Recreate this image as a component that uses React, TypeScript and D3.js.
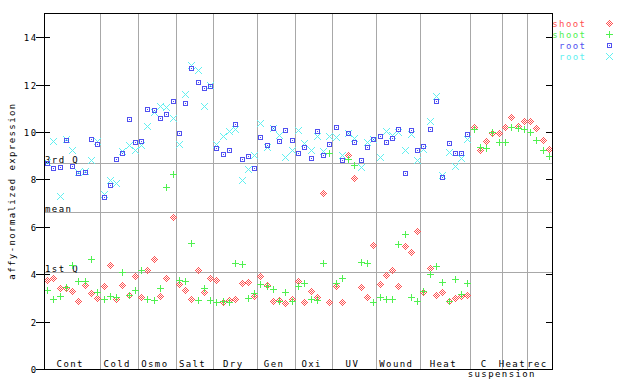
import React from "react";
import * as d3 from "d3";

const groupLabels = ["Cont", "Cold", "Osmo", "Salt", "Dry", "Gen", "Oxi", "UV", "Wound", "Heat", "C", "Heat", "rec"];
const groupStarts = [0, 9, 15, 21, 27, 34, 40, 46, 53, 60, 68, 73, 77];
const sampleCount = 81;
const subLabel = "suspension";

const shootRed = [
  3.74, 3.83, 3.41, 3.41, 3.28, 2.88, 3.53, 3.19, 2.98,
  3.49, 4.38, 2.94, 3.53, 3.11, 3.91,
  3.03, 4.17, 4.63, 3.07, 3.83, 6.40,
  3.58, 3.32, 2.94, 4.17, 3.24, 3.83,
  3.74, 2.81, 2.90, 2.94, 3.62, 3.66, 3.07,
  3.91, 3.53, 2.86, 2.90, 2.77, 2.94,
  3.70, 2.82, 3.28, 3.03, 7.42, 2.82,
  3.49, 2.82, 9.02, 8.05, 3.45, 3.03, 5.22,
  3.58, 3.96, 4.17, 3.49, 5.18, 4.93, 5.81,
  3.24, 4.25, 3.11, 3.24, 2.86, 2.98, 3.07, 3.11,
  10.20, 9.23, 9.61, 9.95, 9.95,
  10.20, 10.62, 10.26, 10.46,
  10.46, 10.17, 9.65, 9.27,
];

const shootGreen = [
  3.32, 2.94, 3.07, 3.45, 4.38, 3.70, 3.70, 4.63, 3.24,
  2.94, 3.07, 3.03, 4.08, 3.11, 3.32,
  4.17, 2.94, 2.90, 3.41, 7.67, 8.22,
  3.74, 3.70, 5.31, 2.90, 3.41, 2.90,
  2.82, 2.86, 2.82, 4.46, 4.42, 2.98, 3.20,
  3.58, 3.49, 3.36, 2.86, 3.24, 2.86,
  3.49, 3.62, 2.94, 2.90, 4.46, 9.10,
  3.62, 3.83, 8.85, 8.60, 4.50, 4.46, 2.82,
  3.03, 2.94, 2.94, 5.26, 5.69, 3.03, 2.86,
  3.28, 4.00, 4.34, 3.66, 2.86, 3.79, 3.15, 3.62,
  10.12, 9.36, 9.32, 9.99, 9.57,
  9.57, 10.20, 10.17, 10.13,
  9.99, 9.65, 9.23, 8.98,
];

const rootBlue = [
  8.68, 8.47, 8.51, 9.68, 8.56, 8.26, 8.30, 9.69, 9.49,
  7.25, 7.78, 8.85, 9.10, 10.54, 9.57,
  9.62, 10.98, 10.92, 10.58, 10.75, 11.30,
  9.95, 11.22, 12.69, 12.10, 11.85, 11.96,
  9.34, 9.06, 9.23, 10.33, 8.85, 8.98, 8.47,
  9.78, 9.44, 10.17, 9.61, 10.08, 9.65,
  9.10, 9.36, 8.89, 10.03, 9.02, 9.49,
  10.20, 8.81, 9.95, 9.57, 8.81, 9.36, 9.72,
  9.82, 9.57, 9.74, 10.12, 8.26, 10.08, 9.23,
  9.40, 10.12, 11.30, 8.09, 9.53, 9.10, 9.10, 9.91,
];

const rootCyan = [
  8.72, 9.61, 7.30, 9.70, 9.23, 8.33, 8.37, 8.81, 9.61,
  7.37, 7.97, 7.85, 9.19, 9.46, 9.23,
  9.44, 10.26, 10.83, 11.09, 11.05, 10.58,
  9.49, 11.60, 12.82, 12.61, 11.09, 11.98,
  9.49, 9.82, 10.03, 10.13, 7.97, 8.43, 9.02,
  10.37, 9.39, 10.17, 9.88, 8.94, 9.23,
  10.08, 9.53, 9.23, 9.82, 9.19, 9.82,
  9.78, 9.02, 9.95, 9.74, 8.51, 9.57, 9.72,
  8.94, 10.03, 9.86, 9.99, 9.23, 9.91, 8.81,
  9.27, 10.46, 11.51, 8.18, 9.15, 8.56, 8.89, 9.70,
];

const yTicks = [0, 2, 4, 6, 8, 10, 12, 14];
const quantileNames = ["3rd Q", "mean", "1st Q"];
const quantileValues = [8.68, 6.61, 4.08];
const legendNames = ["shoot", "shoot", "root", "root"];
const yTitle = "affy-normalized expression";

const COLORS = ["#ff5050", "#50f050", "#5050f0", "#60f0f0"];
const FONT = "'DejaVu Sans Mono', monospace";

type Off = [number, number];
const diamondOffs: Off[] = [];
const plusOffs: Off[] = [];
const squareOffs: Off[] = [];
const crossOffs: Off[] = [];
for (let dx = -3; dx <= 3; dx++) {
  for (let dy = -3; dy <= 3; dy++) {
    const m = Math.abs(dx) + Math.abs(dy);
    if (m <= 3 && Math.abs(dx + dy) % 2 === 1) diamondOffs.push([dx, dy]);
    if ((dx === 0 || dy === 0)) plusOffs.push([dx, dy]);
    if (Math.abs(dx) === Math.abs(dy)) crossOffs.push([dx, dy]);
    if (Math.abs(dx) <= 2 && Math.abs(dy) <= 2 && (Math.max(Math.abs(dx), Math.abs(dy)) === 2 || (dx === 0 && dy === 0)))
      squareOffs.push([dx, dy]);
  }
}
const MARKERS = [diamondOffs, plusOffs, squareOffs, crossOffs];

function pix(X: number, Y: number, offs: Off[]) {
  return offs.map(([dx, dy]) => `M${X + dx},${Y + dy}h1v1h-1z`).join("");
}

export default function App() {
  const L = 44, R = 552, T = 13, B = 369;
  const x = d3.scaleLinear().domain([-0.5, sampleCount - 0.5]).range([L, R]);
  const y = d3.scaleLinear().domain([0, 15]).range([B, 13.6]);

  const series = [shootRed, shootGreen, rootBlue, rootCyan];
  const drawOrder = [0, 1, 3, 2];

  const groupEnds = groupStarts.slice(1).concat([sampleCount]);
  const textStyle = { fontFamily: FONT, fontSize: 9, letterSpacing: 1.4 } as const;

  return (
    <svg width={640} height={384} style={{ position: "fixed", left: 0, top: 0, background: "#fff" }}>
      <rect width={640} height={384} fill="#fff" />
      {/* separators */}
      {groupStarts.slice(1).map((b, k) => {
        const px = Math.round(x(b - 0.5)) + 0.5;
        return <line key={"v" + k} x1={px} x2={px} y1={T} y2={B} stroke="#a8a8a8" shapeRendering="crispEdges" />;
      })}
      {/* quantile lines */}
      {quantileValues.map((q, k) => {
        const py = Math.round(y(q)) + 0.5;
        return (
          <g key={"q" + k}>
            <line x1={L} x2={R} y1={py} y2={py} stroke="#a8a8a8" shapeRendering="crispEdges" />
            <text x={L + 1} y={py - 1} {...textStyle} fill="#000">{quantileNames[k]}</text>
          </g>
        );
      })}
      {/* points */}
      {drawOrder.map((s) => (
        <path
          key={"s" + s}
          fill={COLORS[s]}
          shapeRendering="crispEdges"
          d={series[s].map((v, i) => pix(Math.round(x(i)), Math.round(y(v)), MARKERS[s])).join("")}
        />
      ))}
      {/* frame */}
      <rect x={L + 0.5} y={T + 0.5} width={R - L} height={B - T} fill="none" stroke="#000" shapeRendering="crispEdges" />
      {/* y ticks */}
      {yTicks.map((t) => {
        const py = Math.round(y(t)) + 0.5;
        return (
          <g key={"t" + t}>
            <line x1={36} x2={50} y1={py} y2={py} stroke="#000" shapeRendering="crispEdges" />
            <line x1={546} x2={R} y1={py} y2={py} stroke="#000" shapeRendering="crispEdges" />
            <text x={37.5} y={py + 3} textAnchor="end" {...textStyle} fill="#000">{t}</text>
          </g>
        );
      })}
      {/* group labels */}
      {groupLabels.map((g, k) => {
        const cx = (x(groupStarts[k] - 0.5) + x(groupEnds[k] - 0.5)) / 2 - 2;
        return (
          <text key={"g" + k} x={cx} y={367} textAnchor="middle" {...textStyle} fill="#000">{g}</text>
        );
      })}
      <text x={x(groupStarts[11] - 0.5)} y={376.5} textAnchor="middle" {...textStyle} fill="#000">{subLabel}</text>
      {/* y title */}
      <text transform="translate(14.5,191) rotate(-90)" textAnchor="middle" {...textStyle} fill="#000">{yTitle}</text>
      {/* legend */}
      {legendNames.map((n, k) => (
        <g key={"l" + k}>
          <text x={586.4} y={27 + 11 * k} textAnchor="end" {...textStyle} fill={COLORS[k]}>{n}</text>
          <path d={pix(609, 23 + 11 * k, MARKERS[k])} fill={COLORS[k]} shapeRendering="crispEdges" />
        </g>
      ))}
    </svg>
  );
}
